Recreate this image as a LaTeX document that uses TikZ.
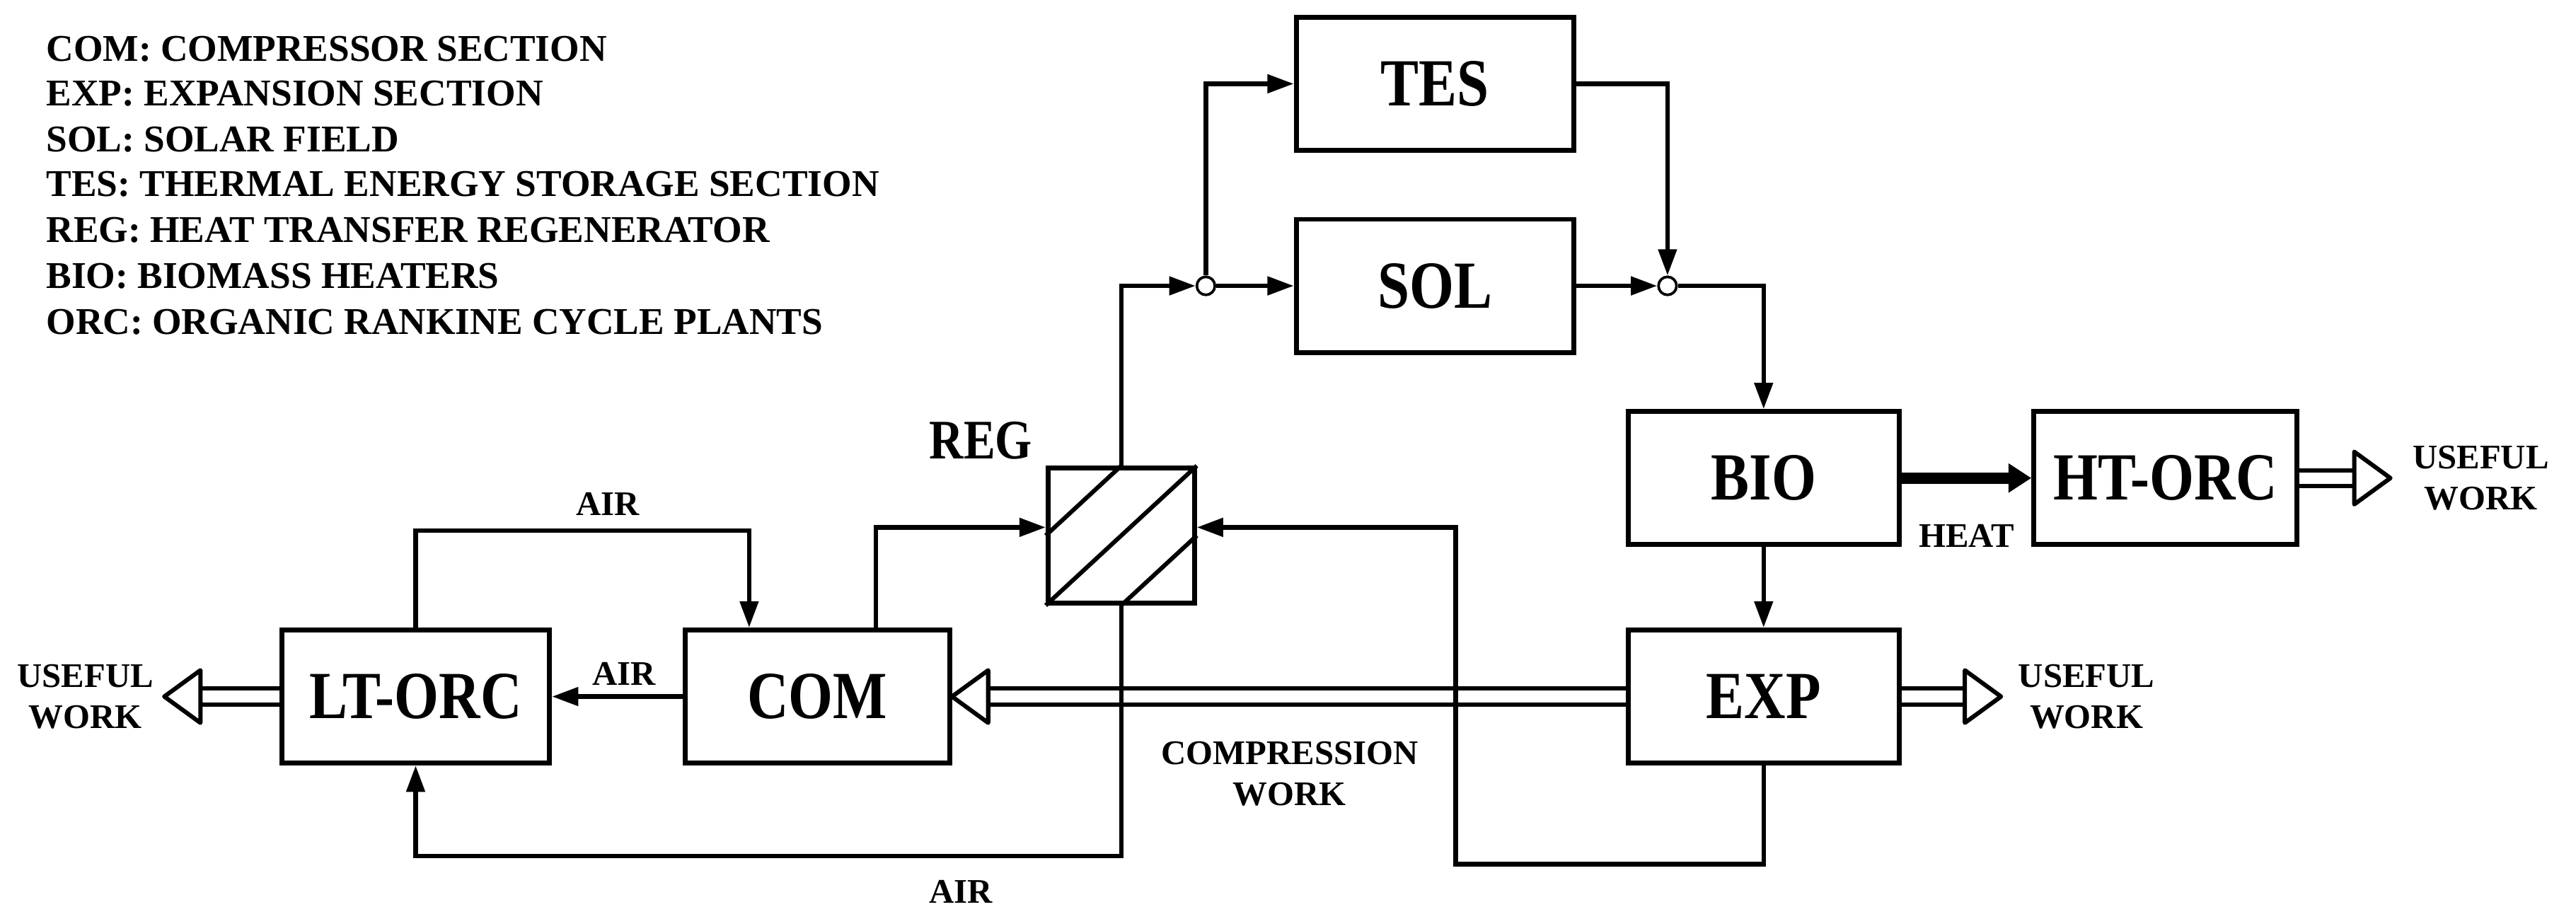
\documentclass[tikz,border=0pt]{standalone}
\usepackage{fontspec}
\setmainfont{Liberation Serif}
\newfontfamily\cond[FakeStretch=0.85]{Liberation Serif}
\usetikzlibrary{arrows.meta,calc}
\begin{document}
\begin{tikzpicture}[x=1pt,y=-1pt,
  box/.style={draw,line width=3pt,minimum width=#1,minimum height=81pt,inner sep=0pt,font=\cond\bfseries\fontsize{41}{41}\selectfont},
  box/.default=165pt,
  flow/.style={line width=2.7pt,-{Triangle[length=16pt,width=11pt]}},
  work/.style={line width=2.6pt,double=white,double distance=7pt},
  head/.style={line width=2.6pt,fill=white,line join=round},
  lbl/.style={font=\bfseries\fontsize{21}{25}\selectfont,align=center,inner sep=0pt},
  leg/.style={font=\bfseries\fontsize{23}{24}\selectfont,anchor=west,inner sep=0pt},
  jn/.style={circle,draw,line width=1.6pt,inner sep=0pt,minimum width=8pt,minimum height=11pt,fill=white,
    path picture={\fill (path picture bounding box.center) circle (1.3pt);}}]
\useasboundingbox (0,0) rectangle (1568,559.4);
% legend
\node[leg] (l1) at (28,30) {COM: COMPRESSOR SECTION};
\node[leg] (l2) at (28,57) {EXP: EXPANSION SECTION};
\node[leg] (l3) at (28,85) {SOL: SOLAR FIELD};
\node[leg] (l4) at (28,112) {TES: THERMAL ENERGY STORAGE SECTION};
\node[leg] (l5) at (28,140) {REG: HEAT TRANSFER REGENERATOR};
\node[leg] (l6) at (28,168) {BIO: BIOMASS HEATERS};
\node[leg] (l7) at (28,196) {ORC: ORGANIC RANKINE CYCLE PLANTS};
% boxes
\node[box=169pt] (tes) at (873.5,51) {TES};
\node[box=169pt] (sol) at (873.5,174) {SOL};
\node[box] (bio) at (1073.5,291) {BIO};
\node[box=160pt] (ht) at (1318,291) {HT-ORC};
\node[box] (exp) at (1073.5,424) {EXP};
\node[box=161pt] (com) at (497.5,424) {COM};
\node[box=163pt] (lt) at (253,424) {LT-ORC};
\node[draw,line width=3pt,minimum width=89pt,minimum height=82pt,inner sep=0pt] (reg) at (682.5,326) {};
\draw[line width=2.6pt] (reg.south west) -- (reg.north east)
  (reg.west) -- (reg.north) (reg.south) -- (reg.east);
\node[font=\cond\bfseries\fontsize{34}{34}\selectfont] (regl) at (597,268) {REG};
\node[jn] (j1) at (734,174) {};
\node[jn] (j2) at (1015,174) {};
\coordinate (w1) at (1455,291);
\coordinate (w2) at (1218,424);
\coordinate (w3) at (100,424);
% connectors
\draw[flow] (reg.north) |- (j1);
\draw[flow] (j1) -- (sol);
\draw[flow] (j1) |- (tes);
\draw[flow] (tes) -| (j2);
\draw[flow] (sol) -- (j2);
\draw[flow] (j2) -| (bio);
\draw[line width=7pt,-{Triangle[length=14pt,width=17pt]}] (bio) -- (ht);
\draw[flow] (bio) -- (exp);
\draw[work] (ht.east) -- ($(w1)+(-22,0)$);
\draw[head] (w1) -- ++(-22,-16) -- ++(0,32) -- cycle;
\draw[work] (exp.east) -- ($(w2)+(-22,0)$);
\draw[head] (w2) -- ++(-22,-16) -- ++(0,32) -- cycle;
\coordinate (w4) at (com.east);
\draw[work] (exp.west) -- ($(w4)+(22,0)$);
\draw[head] (w4) -- ++(22,-16) -- ++(0,32) -- cycle;
\draw[work] (lt.west) -- ($(w3)+(22,0)$);
\draw[head] (w3) -- ++(22,-16) -- ++(0,32) -- cycle;
\draw[flow] (exp.south) -- ++(0,60) -| (886,321) -- (reg.east |- 0,321);
\draw[flow] (com.north -| 533,0) |- (reg.west |- 0,321);
\draw[flow] (lt.north) |- (456,323) -- (com.north -| 456,0);
\draw[flow] (com) -- (lt);
\draw[flow] (reg.south) |- (lt.south |- 0,521) -- (lt.south);
% labels
\node[lbl] (t1) at (1197,326) {HEAT};
\node[lbl] (t2) at (1510,291) {USEFUL\\WORK};
\node[lbl] (t3) at (1270,424) {USEFUL\\WORK};
\node[lbl] (t4) at (52,424) {USEFUL\\WORK};
\node[lbl] (t5) at (785,471) {COMPRESSION\\WORK};
\node[lbl] (t6) at (370,307) {AIR};
\node[lbl] (t7) at (380,410) {AIR};
\node[lbl] (t8) at (585,543) {AIR};
\end{tikzpicture}
\end{document}
